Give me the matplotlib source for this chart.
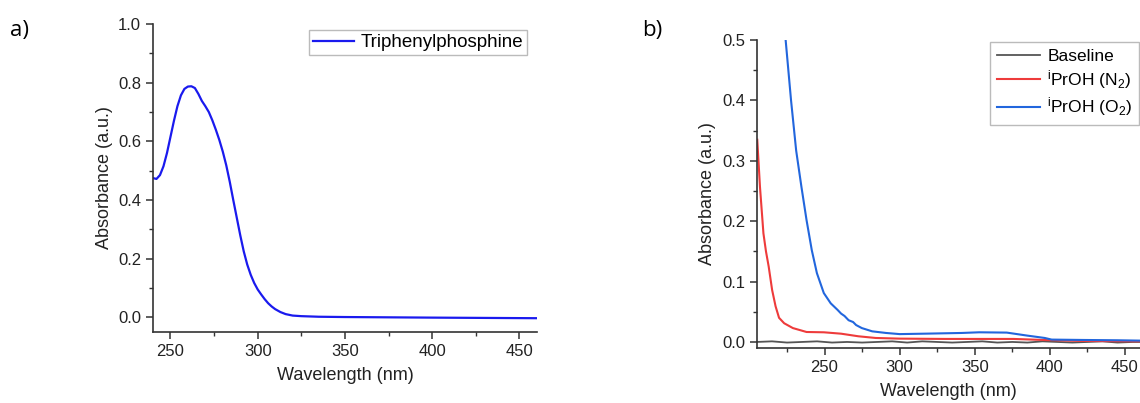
import matplotlib
matplotlib.use('Agg')
import matplotlib.pyplot as plt
from matplotlib.ticker import MultipleLocator

plt.rcParams['font.family'] = ['Liberation Sans', 'DejaVu Sans']
plt.rcParams['mathtext.fontset'] = 'custom'
plt.rcParams['mathtext.rm'] = 'Liberation Sans'
plt.rcParams['mathtext.default'] = 'regular'

# a) triphenylphosphine spectrum
tpp_wl = [240.6, 242, 244, 246, 248, 250, 252, 254, 256, 258, 260, 262, 264, 266,
          268, 270, 272, 274, 276, 278, 280, 282, 284, 286, 288, 290, 292, 294,
          296, 298, 300, 302, 304, 306, 308, 310, 313, 316, 320, 325, 335, 350,
          375, 400, 430, 460]
tpp_abs = [0.474, 0.472, 0.485, 0.515, 0.56, 0.615, 0.67, 0.72, 0.757, 0.779, 0.787,
           0.788, 0.782, 0.762, 0.738, 0.72, 0.70, 0.672, 0.64, 0.605, 0.565, 0.518,
           0.462, 0.40, 0.34, 0.28, 0.225, 0.18, 0.145, 0.117, 0.095, 0.078, 0.062,
           0.048, 0.037, 0.028, 0.018, 0.011, 0.006, 0.004, 0.002, 0.001, 0.0,
           -0.001, -0.002, -0.003]

# b) isopropanol spectra
base_wl = [205, 215, 225, 235, 245, 255, 265, 275, 285, 295, 305, 315, 325, 335,
           345, 355, 365, 375, 385, 395, 405, 415, 425, 435, 445, 455, 460]
base_abs = [0.0, 0.001, -0.001, 0.0, 0.001, -0.001, 0.0, -0.001, 0.0, 0.001, -0.001,
            0.001, 0.0, -0.001, 0.0, 0.001, -0.001, 0.0, -0.001, 0.001, 0.0, -0.001,
            0.0, 0.001, -0.001, 0.0, 0.0]

n2_wl = [205.2, 207.0, 209.3, 211.0, 212.8, 215.1, 217.4, 219.7, 223.1, 228.9, 238.0,
         249.5, 261.0, 272.5, 284.0, 300.0, 330.0, 352.8, 375.8, 398.8, 421.8, 460.0]
n2_abs = [0.335, 0.257, 0.180, 0.150, 0.125, 0.086, 0.059, 0.040, 0.031, 0.023, 0.0165,
          0.016, 0.0137, 0.0094, 0.0066, 0.0055, 0.005, 0.005, 0.005, 0.003, 0.0017, 0.001]

o2_wl = [223.5, 224.1, 227.7, 231.1, 234.6, 238.0, 241.5, 244.9, 249.5, 254.1,
         258.7, 261.0, 263.3, 266.0, 269.0, 271.0, 274.8, 281.7, 290.9, 300.0, 318.4,
         341.4, 352.9, 371.3, 385.0, 396.6, 401.2, 421.8, 444.8, 460.0]
o2_abs = [0.53, 0.50, 0.40, 0.317, 0.257, 0.202, 0.152, 0.114, 0.081, 0.064,
          0.053, 0.047, 0.043, 0.036, 0.033, 0.028, 0.023, 0.0176, 0.0149, 0.013, 0.0138,
          0.0149, 0.016, 0.0155, 0.0105, 0.0066, 0.0039, 0.0033, 0.0028, 0.0022]

fig = plt.figure(figsize=(11.4, 4.03), dpi=100)
ax1 = fig.add_axes([0.1342, 0.1762, 0.3368, 0.764])
ax2 = fig.add_axes([0.664, 0.1365, 0.336, 0.764])

spine_col = '#333333'


def style(ax):
    for s in ['top', 'right']:
        ax.spines[s].set_visible(False)
    for s in ['left', 'bottom']:
        ax.spines[s].set_color(spine_col)
        ax.spines[s].set_linewidth(1.2)
    ax.tick_params(which='major', direction='out', length=5, width=1.1,
                   color=spine_col, labelsize=12, labelcolor='#222222')
    ax.tick_params(which='minor', direction='out', length=3, width=1.0, color=spine_col)
    ax.set_xlabel('Wavelength (nm)', fontsize=13, color='#222222', labelpad=6)
    ax.set_ylabel('Absorbance (a.u.)', fontsize=13, color='#222222', labelpad=4)


ax1.plot(tpp_wl, tpp_abs, color='#1a1aee', lw=1.6, label='Triphenylphosphine')
ax1.set_xlim(240, 460)
ax1.set_ylim(-0.05, 1.0)
ax1.xaxis.set_minor_locator(MultipleLocator(25))
ax1.yaxis.set_minor_locator(MultipleLocator(0.1))
ax1.set_yticks([0.0, 0.2, 0.4, 0.6, 0.8, 1.0])
ax1.set_xticks([250, 300, 350, 400, 450])
style(ax1)
leg1 = ax1.legend(loc='upper right', bbox_to_anchor=(0.974, 0.98), borderaxespad=0,
                  fancybox=False, fontsize=13.5, handlelength=2.2, handletextpad=0.35,
                  borderpad=0.2, edgecolor='#bbbbbb', framealpha=1)
leg1.get_frame().set_linewidth(1.0)

ax2.plot(base_wl, base_abs, color='#555555', lw=1.3, label='Baseline')
ax2.plot(n2_wl, n2_abs, color='#ee3b3b', lw=1.5, label=r'$^{i}$PrOH (N$_2$)')
ax2.plot(o2_wl, o2_abs, color='#2266dd', lw=1.5, label=r'$^{i}$PrOH (O$_2$)')
ax2.set_xlim(205, 460)
ax2.set_ylim(-0.01, 0.5)
ax2.xaxis.set_minor_locator(MultipleLocator(25))
ax2.yaxis.set_minor_locator(MultipleLocator(0.05))
ax2.set_xticks([250, 300, 350, 400, 450])
ax2.set_yticks([0.0, 0.1, 0.2, 0.3, 0.4, 0.5])
style(ax2)
leg2 = ax2.legend(loc='upper left', bbox_to_anchor=(0.608, 0.995), borderaxespad=0,
                  fancybox=False, fontsize=12.5, handlelength=2.5, handletextpad=0.4,
                  edgecolor='#bbbbbb', framealpha=1, labelspacing=0.25)
leg2.get_frame().set_linewidth(1.0)

fig.text(0.009, 0.925, 'a)', fontsize=16, va='center', family=['Open Sans', 'DejaVu Sans'])
fig.text(0.563, 0.925, 'b)', fontsize=16, va='center', family=['Open Sans', 'DejaVu Sans'])

fig.savefig('out.png', dpi=100)
